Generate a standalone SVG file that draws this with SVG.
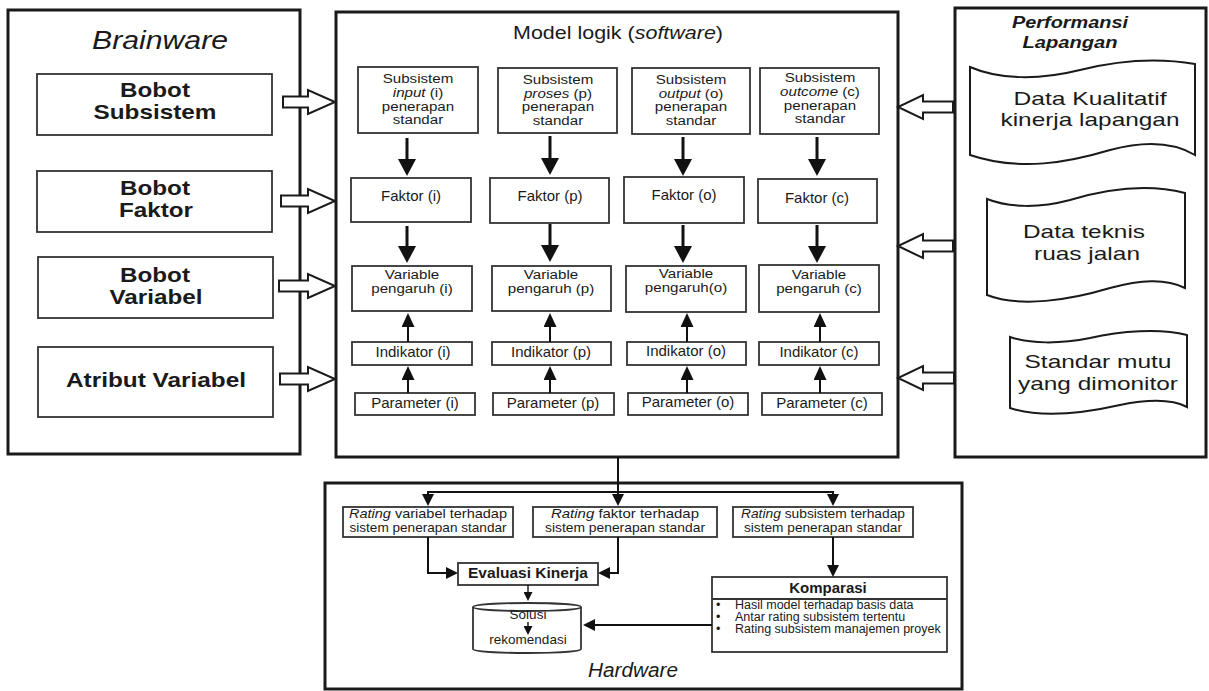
<svg xmlns="http://www.w3.org/2000/svg" width="1209" height="691" viewBox="0 0 1209 691">
<style>
.bg{fill:#fff}
.panel{fill:#fff;stroke:#1a1a1a;stroke-width:3}
.box{fill:#fff;stroke:#333;stroke-width:1.8}
.doc{fill:#fff;stroke:#1a1a1a;stroke-width:2}
.t{font-family:"Liberation Sans",Arial,sans-serif;fill:#1a1a1a;text-anchor:middle}
.st{text-anchor:start}
.f15{font-size:15px}
.f13{font-size:13.5px}
.f14{font-size:13.5px}
.f12{font-size:12.5px}
.b{font-weight:bold}
.i{font-style:italic}
.thick{fill:none;stroke:#111;stroke-width:3}
.mid{fill:none;stroke:#111;stroke-width:2}
.thin{fill:none;stroke:#111;stroke-width:1.4}
.hollow{fill:#fff;stroke:#1a1a1a;stroke-width:2;stroke-linejoin:miter}
</style>
<defs>
<marker id="big" markerUnits="userSpaceOnUse" viewBox="0 0 17 18" markerWidth="17" markerHeight="18" refX="9" refY="9" orient="auto"><path d="M0,0 L17,9 L0,18 Z" fill="#111"/></marker>
<marker id="med" markerUnits="userSpaceOnUse" viewBox="0 0 14 13" markerWidth="14" markerHeight="13" refX="6" refY="6.5" orient="auto"><path d="M0,0 L14,6.5 L0,13 Z" fill="#111"/></marker>
<marker id="sm" markerUnits="userSpaceOnUse" viewBox="0 0 12 12" markerWidth="12" markerHeight="12" refX="5" refY="6" orient="auto"><path d="M0,0 L12,6 L0,12 Z" fill="#111"/></marker>
<marker id="xs" markerUnits="userSpaceOnUse" viewBox="0 0 9 9" markerWidth="9" markerHeight="9" refX="4" refY="4.5" orient="auto"><path d="M0,0 L9,4.5 L0,9 Z" fill="#111"/></marker>
</defs>
<rect class="bg" x="0" y="0" width="1209" height="691"/>

<g id="brainware">
<rect class="panel" x="8" y="10" width="292" height="444"/>
<text class="t i" x="160" y="49" font-size="26" textLength="136" lengthAdjust="spacingAndGlyphs">Brainware</text>
</g>
<g id="bobot-subsistem">
<rect class="box" x="37" y="74" width="235" height="61"/>
<text class="t b" x="155" y="97" font-size="21" textLength="70" lengthAdjust="spacingAndGlyphs">Bobot</text>
<text class="t b" x="155" y="119" font-size="21" textLength="123" lengthAdjust="spacingAndGlyphs">Subsistem</text>
</g>
<g id="bobot-faktor">
<rect class="box" x="37" y="171" width="235" height="61"/>
<text class="t b" x="155" y="195" font-size="21" textLength="70" lengthAdjust="spacingAndGlyphs">Bobot</text>
<text class="t b" x="156" y="217" font-size="21" textLength="74" lengthAdjust="spacingAndGlyphs">Faktor</text>
</g>
<g id="bobot-variabel">
<rect class="box" x="38" y="257" width="235" height="61"/>
<text class="t b" x="155" y="282" font-size="21" textLength="70" lengthAdjust="spacingAndGlyphs">Bobot</text>
<text class="t b" x="156" y="304" font-size="21" textLength="93" lengthAdjust="spacingAndGlyphs">Variabel</text>
</g>
<g id="atribut-variabel">
<rect class="box" x="38" y="347" width="235" height="70"/>
<text class="t b" x="156" y="387" font-size="21" textLength="180" lengthAdjust="spacingAndGlyphs">Atribut Variabel</text>
</g>

<g id="model-logik">
<rect class="panel" x="336" y="12" width="562" height="445"/>
<text class="t" x="618" y="39" font-size="19" textLength="210" lengthAdjust="spacingAndGlyphs">Model logik (<tspan class="i">software</tspan>)</text>
</g>

<g id="subsistem-i">
<rect class="box" x="358" y="67" width="120" height="66"/>
<g transform="translate(418 0) scale(1.12 1) translate(-418 0)">
<text class="t f13" x="418" y="83">Subsistem</text>
<text class="t f13" x="418" y="97"><tspan class="i">input</tspan> (i)</text>
<text class="t f13" x="418" y="111">penerapan</text>
<text class="t f13" x="418" y="124">standar</text>
</g>
</g>
<g id="subsistem-p">
<rect class="box" x="498" y="68" width="119" height="65"/>
<g transform="translate(558 0) scale(1.12 1) translate(-558 0)">
<text class="t f13" x="558" y="84">Subsistem</text>
<text class="t f13" x="558" y="98"><tspan class="i">proses</tspan> (p)</text>
<text class="t f13" x="558" y="111">penerapan</text>
<text class="t f13" x="558" y="125">standar</text>
</g>
</g>
<g id="subsistem-o">
<rect class="box" x="632" y="68" width="118" height="66"/>
<g transform="translate(691 0) scale(1.12 1) translate(-691 0)">
<text class="t f13" x="691" y="84">Subsistem</text>
<text class="t f13" x="691" y="98"><tspan class="i">output</tspan> (o)</text>
<text class="t f13" x="691" y="111">penerapan</text>
<text class="t f13" x="691" y="125">standar</text>
</g>
</g>
<g id="subsistem-c">
<rect class="box" x="760" y="68" width="119" height="66"/>
<g transform="translate(820 0) scale(1.12 1) translate(-820 0)">
<text class="t f13" x="820" y="82">Subsistem</text>
<text class="t f13" x="820" y="96"><tspan class="i">outcome</tspan> (c)</text>
<text class="t f13" x="820" y="110">penerapan</text>
<text class="t f13" x="820" y="123">standar</text>
</g>
</g>

<g id="faktor-i"><rect class="box" x="351" y="178" width="120" height="44"/><text class="t f15" x="411" y="201">Faktor (i)</text></g>
<g id="faktor-p"><rect class="box" x="490" y="178" width="119" height="45"/><text class="t f15" x="550" y="201">Faktor (p)</text></g>
<g id="faktor-o"><rect class="box" x="624" y="177" width="120" height="46"/><text class="t f15" x="684" y="200">Faktor (o)</text></g>
<g id="faktor-c"><rect class="box" x="758" y="179" width="119" height="44"/><text class="t f15" x="817" y="203">Faktor (c)</text></g>

<g id="variable-i"><rect class="box" x="352" y="266" width="120" height="45"/><g transform="translate(412 0) scale(1.12 1) translate(-412 0)"><text class="t f13" x="412" y="279">Variable</text><text class="t f13" x="412" y="293">pengaruh (i)</text></g></g>
<g id="variable-p"><rect class="box" x="492" y="266" width="119" height="45"/><g transform="translate(551 0) scale(1.12 1) translate(-551 0)"><text class="t f13" x="551" y="279">Variable</text><text class="t f13" x="551" y="293">pengaruh (p)</text></g></g>
<g id="variable-o"><rect class="box" x="626" y="266" width="120" height="46"/><g transform="translate(686 0) scale(1.12 1) translate(-686 0)"><text class="t f13" x="686" y="278">Variable</text><text class="t f13" x="686" y="292">pengaruh(o)</text></g></g>
<g id="variable-c"><rect class="box" x="759" y="265" width="120" height="47"/><g transform="translate(819 0) scale(1.12 1) translate(-819 0)"><text class="t f13" x="819" y="279">Variable</text><text class="t f13" x="819" y="293">pengaruh (c)</text></g></g>

<g id="indikator-i"><rect class="box" x="352" y="342" width="120" height="23"/><text class="t f15" x="413" y="357">Indikator (i)</text></g>
<g id="indikator-p"><rect class="box" x="492" y="342" width="119" height="23"/><text class="t f15" x="551" y="357">Indikator (p)</text></g>
<g id="indikator-o"><rect class="box" x="627" y="342" width="119" height="23"/><text class="t f15" x="686" y="356">Indikator (o)</text></g>
<g id="indikator-c"><rect class="box" x="759" y="342" width="120" height="23"/><text class="t f15" x="819" y="357">Indikator (c)</text></g>

<g id="parameter-i"><rect class="box" x="355" y="393" width="120" height="22"/><text class="t f15" x="415" y="408">Parameter (i)</text></g>
<g id="parameter-p"><rect class="box" x="493" y="393" width="121" height="22"/><text class="t f15" x="553" y="408">Parameter (p)</text></g>
<g id="parameter-o"><rect class="box" x="628" y="393" width="120" height="22"/><text class="t f15" x="688" y="407">Parameter (o)</text></g>
<g id="parameter-c"><rect class="box" x="762" y="393" width="120" height="22"/><text class="t f15" x="822" y="408">Parameter (c)</text></g>

<g id="performansi-lapangan">
<rect class="panel" x="955" y="8" width="251" height="449"/>
<text class="t b i" x="1070" y="28" font-size="16" textLength="116" lengthAdjust="spacingAndGlyphs">Performansi</text>
<text class="t b i" x="1070" y="48" font-size="16" textLength="95" lengthAdjust="spacingAndGlyphs">Lapangan</text>
</g>
<g id="data-kualitatif">
<path class="doc" d="M970,67 C1000,80 1040,80 1080,70 C1120,60 1160,58 1195,64 L1195,155 C1170,140 1140,142 1110,150 C1070,162 1020,172 970,155 Z"/>
<text class="t" x="1090" y="105" font-size="19" textLength="153" lengthAdjust="spacingAndGlyphs">Data Kualitatif</text>
<text class="t" x="1090" y="126" font-size="19" textLength="179" lengthAdjust="spacingAndGlyphs">kinerja lapangan</text>
</g>
<g id="data-teknis">
<path class="doc" d="M987,199 C1010,208 1040,208 1070,200 C1110,188 1150,184 1185,193 L1185,288 C1165,278 1140,280 1110,288 C1070,300 1020,308 987,295 Z"/>
<text class="t" x="1084" y="238" font-size="19" textLength="122" lengthAdjust="spacingAndGlyphs">Data teknis</text>
<text class="t" x="1087" y="260" font-size="19" textLength="106" lengthAdjust="spacingAndGlyphs">ruas jalan</text>
</g>
<g id="standar-mutu">
<path class="doc" d="M1010,337 C1030,344 1060,344 1090,338 C1120,331 1160,328 1187,335 L1187,407 C1170,398 1145,400 1120,405 C1080,414 1040,418 1010,408 Z"/>
<text class="t" x="1098" y="368" font-size="19" textLength="147" lengthAdjust="spacingAndGlyphs">Standar mutu</text>
<text class="t" x="1098" y="390" font-size="19" textLength="160" lengthAdjust="spacingAndGlyphs">yang dimonitor</text>
</g>

<g id="hardware">
<rect class="panel" x="325" y="483" width="637" height="206"/>
<text class="t i" x="633" y="677" font-size="20" textLength="90" lengthAdjust="spacingAndGlyphs">Hardware</text>
</g>
<g id="rating-variabel">
<rect class="box" x="343" y="507" width="170" height="30"/>
<text class="t f14" x="428" y="518" textLength="158" lengthAdjust="spacingAndGlyphs"><tspan class="i">Rating</tspan> variabel terhadap</text>
<text class="t f14" x="428" y="532" textLength="157" lengthAdjust="spacingAndGlyphs">sistem penerapan standar</text>
</g>
<g id="rating-faktor">
<rect class="box" x="533" y="507" width="184" height="30"/>
<text class="t f14" x="625" y="518" textLength="148" lengthAdjust="spacingAndGlyphs"><tspan class="i">Rating</tspan> faktor terhadap</text>
<text class="t f14" x="625" y="532" textLength="160" lengthAdjust="spacingAndGlyphs">sistem penerapan standar</text>
</g>
<g id="rating-subsistem">
<rect class="box" x="733" y="507" width="180" height="30"/>
<text class="t f14" x="823" y="518" textLength="164" lengthAdjust="spacingAndGlyphs"><tspan class="i">Rating</tspan> subsistem terhadap</text>
<text class="t f14" x="823" y="532" textLength="158" lengthAdjust="spacingAndGlyphs">sistem penerapan standar</text>
</g>
<g id="evaluasi-kinerja">
<rect class="box" x="458" y="563" width="140" height="22"/>
<text class="t b" x="528" y="578" font-size="15" textLength="120" lengthAdjust="spacingAndGlyphs">Evaluasi Kinerja</text>
</g>
<g id="komparasi">
<rect class="box" x="712" y="577" width="235" height="75"/>
<line x1="712" y1="599" x2="947" y2="599" stroke="#333" stroke-width="1.8"/>
<text class="t b" x="828" y="593" font-size="15">Komparasi</text>
<text class="t f12 st" x="716" y="609">•</text>
<text class="t f12 st" x="735" y="609">Hasil model terhadap basis data</text>
<text class="t f12 st" x="716" y="621">•</text>
<text class="t f12 st" x="735" y="621">Antar rating subsistem tertentu</text>
<text class="t f12 st" x="716" y="633">•</text>
<text class="t f12 st" x="735" y="633">Rating subsistem manajemen proyek</text>
</g>
<g id="solusi-rekomendasi">
<path d="M473,607 A54,4 0 0 1 581,607 V649 A54,4 0 0 1 473,649 Z" fill="#fff" stroke="#333" stroke-width="1.8"/>
<path d="M473,607 A54,4 0 0 0 581,607" fill="none" stroke="#333" stroke-width="1.8"/>
<text class="t f14" x="528" y="619">Solusi</text>
<text class="t f14" x="528" y="644">rekomendasi</text>
</g>

<g id="connectors">
<polygon class="hollow" points="283,96.5 308,96.5 308,90 335,102 308,114 308,107.5 283,107.5"/>
<polygon class="hollow" points="281,195.5 308,195.5 308,189 335,201 308,213 308,206.5 281,206.5"/>
<polygon class="hollow" points="279,280.5 308,280.5 308,274 335,286 308,298 308,291.5 279,291.5"/>
<polygon class="hollow" points="280,373.5 308,373.5 308,367 335,379 308,391 308,384.5 280,384.5"/>
<polygon class="hollow" points="953,101.5 923,101.5 923,95 898,107 923,119 923,112.5 953,112.5"/>
<polygon class="hollow" points="953,240.5 923,240.5 923,234 898,246 923,258 923,251.5 953,251.5"/>
<polygon class="hollow" points="954,372.5 923,372.5 923,366 898,378 923,390 923,383.5 954,383.5"/>

<line class="thick" x1="407" y1="138" x2="407" y2="168" marker-end="url(#big)"/>
<line class="thick" x1="550" y1="136" x2="550" y2="167" marker-end="url(#big)"/>
<line class="thick" x1="683" y1="137" x2="683" y2="168" marker-end="url(#big)"/>
<line class="thick" x1="817" y1="137" x2="817" y2="168" marker-end="url(#big)"/>
<line class="thick" x1="407" y1="226" x2="407" y2="255" marker-end="url(#big)"/>
<line class="thick" x1="550" y1="224" x2="550" y2="254" marker-end="url(#big)"/>
<line class="thick" x1="683" y1="225" x2="683" y2="255" marker-end="url(#big)"/>
<line class="thick" x1="817" y1="225" x2="817" y2="255" marker-end="url(#big)"/>

<line class="mid" x1="408" y1="342" x2="408" y2="321" marker-end="url(#med)"/>
<line class="mid" x1="550" y1="342" x2="550" y2="321" marker-end="url(#med)"/>
<line class="mid" x1="687" y1="342" x2="687" y2="321" marker-end="url(#med)"/>
<line class="mid" x1="820" y1="342" x2="820" y2="321" marker-end="url(#med)"/>
<line class="mid" x1="408" y1="393" x2="408" y2="374" marker-end="url(#med)"/>
<line class="mid" x1="550" y1="393" x2="550" y2="374" marker-end="url(#med)"/>
<line class="mid" x1="687" y1="393" x2="687" y2="374" marker-end="url(#med)"/>
<line class="mid" x1="820" y1="393" x2="820" y2="374" marker-end="url(#med)"/>

<line class="mid" x1="618" y1="457" x2="618" y2="499" marker-end="url(#sm)"/>
<line class="mid" x1="428" y1="492" x2="833" y2="492"/>
<line class="mid" x1="428" y1="491" x2="428" y2="499" marker-end="url(#sm)"/>
<line class="mid" x1="833" y1="491" x2="833" y2="499" marker-end="url(#sm)"/>
<path class="mid" d="M428,537 V573 H451" marker-end="url(#sm)"/>
<path class="mid" d="M618,537 V573 H605" marker-end="url(#sm)"/>
<line class="mid" x1="833" y1="537" x2="833" y2="570" marker-end="url(#sm)"/>
<line class="mid" x1="712" y1="625" x2="590" y2="625" marker-end="url(#sm)"/>
<line class="thin" x1="528" y1="585" x2="528" y2="596" marker-end="url(#xs)"/>
<line class="thin" x1="528" y1="622" x2="528" y2="630" marker-end="url(#xs)"/>
</g>
</svg>
